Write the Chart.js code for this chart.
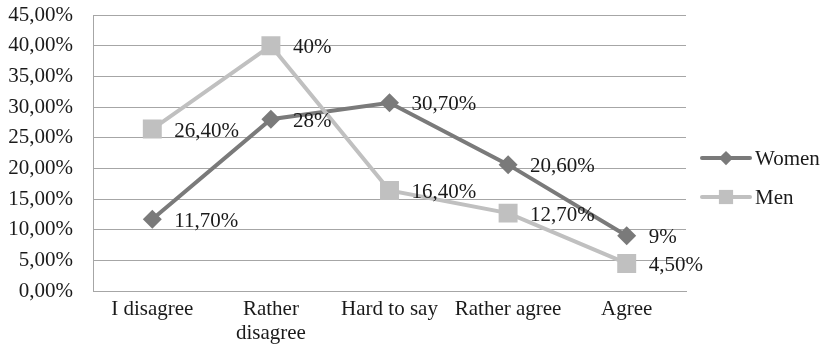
<!DOCTYPE html>
<html>
<head>
<meta charset="utf-8">
<script src="https://cdn.jsdelivr.net/npm/chart.js@4/dist/chart.umd.min.js"></script>
<style>
  html, body { margin: 0; padding: 0; background: #fff; }
  #wrap { width: 826px; height: 347px; }
</style>
</head>
<body>
<div id="wrap"><canvas id="chart"></canvas></div>
<script>
const categories = ['I disagree', ['Rather', 'disagree'], 'Hard to say', 'Rather agree', 'Agree'];
const women = [11.7, 28, 30.7, 20.6, 9];
const men = [26.4, 40, 16.4, 12.7, 4.5];

const FONT = '"Liberation Serif", "Times New Roman", serif';
const WOMEN_COLOR = '#7a7a7a';
const MEN_COLOR = '#c0c0c0';

// "30,70%" style, whole numbers without decimals
const pct = v => (Number.isInteger(v) ? String(v) : v.toFixed(2).replace('.', ',')) + '%';

// value labels to the right of each point
const valueLabels = {
    id: 'valueLabels',
    afterDatasetsDraw(chart) {
        const ctx = chart.ctx;
        ctx.save();
        ctx.font = '21px ' + FONT;
        ctx.fillStyle = '#1a1a1a';
        ctx.textAlign = 'left';
        ctx.textBaseline = 'middle';
        chart.data.datasets.forEach((ds, i) => {
            chart.getDatasetMeta(i).data.forEach((pt, j) => {
                ctx.fillText(pct(ds.data[j]), pt.x + 22, pt.y + 2);
            });
        });
        ctx.restore();
    }
};

// legend: line sample with marker, then series name
const sideLegend = {
    id: 'sideLegend',
    afterDraw(chart) {
        const ctx = chart.ctx;
        const x0 = 702, rows = [158, 197];
        chart.data.datasets.forEach((ds, i) => {
            const y = rows[i];
            ctx.save();
            ctx.strokeStyle = ds.borderColor;
            ctx.lineWidth = 4;
            ctx.lineCap = 'round';
            ctx.beginPath();
            ctx.moveTo(x0, y);
            ctx.lineTo(x0 + 48, y);
            ctx.stroke();
            ctx.fillStyle = ds.pointBackgroundColor;
            Chart.helpers.drawPoint(ctx, {
                pointStyle: ds.pointStyle,
                radius: ds.pointRadius * 0.75,
                rotation: 0,
                borderWidth: 0
            }, x0 + 24, y);
            ctx.fillStyle = '#1a1a1a';
            ctx.font = '21px ' + FONT;
            ctx.textBaseline = 'middle';
            ctx.fillText(ds.label, x0 + 53, y + 1);
            ctx.restore();
        });
    }
};

new Chart(document.getElementById('chart'), {
    type: 'line',
    data: {
        labels: categories,
        datasets: [{
            label: 'Women',
            data: women,
            borderColor: WOMEN_COLOR,
            backgroundColor: WOMEN_COLOR,
            pointBackgroundColor: WOMEN_COLOR,
            pointBorderWidth: 0,
            pointStyle: 'rectRot',
            pointRadius: 9.5,
            borderWidth: 4,
            order: 1
        }, {
            label: 'Men',
            data: men,
            borderColor: MEN_COLOR,
            backgroundColor: MEN_COLOR,
            pointBackgroundColor: MEN_COLOR,
            pointBorderWidth: 0,
            pointStyle: 'rect',
            pointRadius: 13.4,
            borderWidth: 4,
            order: 0
        }]
    },
    options: {
        responsive: true,
        maintainAspectRatio: false,
        animation: false,
        layout: { padding: { top: 15, right: 140, left: 0, bottom: 0 } },
        plugins: {
            legend: { display: false },
            tooltip: { enabled: false }
        },
        scales: {
            y: {
                min: 0,
                max: 45,
                ticks: {
                    stepSize: 5,
                    padding: 20,
                    color: '#1a1a1a',
                    font: { family: FONT, size: 21 },
                    callback: v => v.toFixed(2).replace('.', ',') + '%'
                },
                grid: { color: '#a6a6a6', lineWidth: 1, drawTicks: false },
                border: { color: '#a6a6a6', width: 1 },
                afterFit: s => {
                    s.width = 93;
                    s.paddingTop = 0;
                    s.paddingBottom = 0;
                }
            },
            x: {
                offset: true,
                ticks: {
                    padding: 6,
                    maxRotation: 0,
                    autoSkip: false,
                    color: '#1a1a1a',
                    font: { family: FONT, size: 21, lineHeight: 1.15 }
                },
                grid: { display: false, drawTicks: false },
                border: { color: '#a6a6a6', width: 1 },
                afterFit: s => { s.height = 56; }
            }
        }
    },
    plugins: [valueLabels, sideLegend]
});
</script>
</body>
</html>
